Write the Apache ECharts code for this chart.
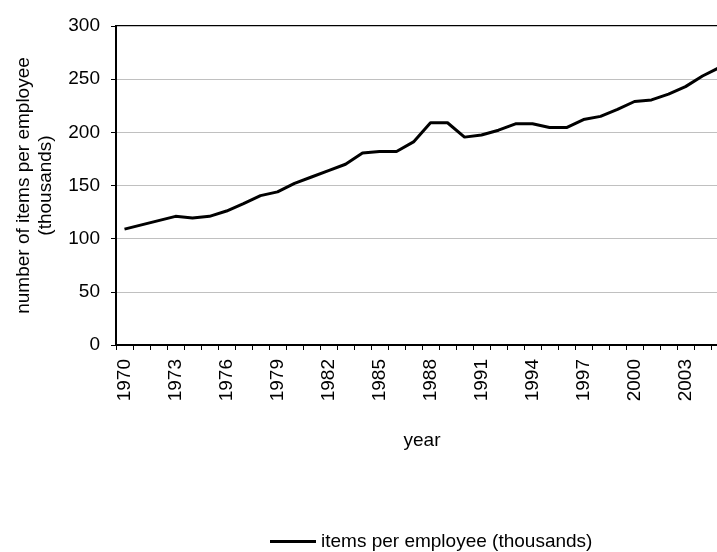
<!DOCTYPE html>
<html>
<head>
<meta charset="utf-8">
<script src="https://cdn.jsdelivr.net/npm/echarts@6/dist/echarts.min.js"></script>
<style>
html,body{margin:0;padding:0;background:#fff;overflow:hidden;}
#chart{width:717px;height:552px;}
</style>
</head>
<body>
<div id="chart"></div>
<script>
const years = ['1970','1971','1972','1973','1974','1975','1976','1977','1978','1979',
  '1980','1981','1982','1983','1984','1985','1986','1987','1988','1989',
  '1990','1991','1992','1993','1994','1995','1996','1997','1998','1999',
  '2000','2001','2002','2003','2004','2005'];
const itemsPerEmployee = [109,113,117,121,119.5,121,126,133,140.5,144,
  152,158,164,170,180.5,182,182,191,209,209,
  195.5,197.5,202,208,208,204.5,204.5,212,215,221.5,
  229,230.5,236,243,253,261];
const seriesName = 'items per employee (thousands)';
const yTicks = [0,50,100,150,200,250,300];

const font = 'Liberation Sans, Arial, sans-serif';
const fs = 19;
const chart = echarts.init(document.getElementById('chart'), null, {renderer:'canvas'});
chart.setOption({
  animation:false,
  backgroundColor:'#fff',
  grid:{left:116, top:26, height:319, width:612, outerBoundsMode:'none', containLabel:false,
        show:true, borderColor:'#000', borderWidth:2, backgroundColor:'transparent'},
  xAxis:{
    type:'category', data:years, boundaryGap:true,
    name:'year', nameLocation:'middle', nameGap:86,
    nameTextStyle:{fontFamily:font, fontSize:fs, color:'#000', verticalAlign:'top'},
    axisLine:{lineStyle:{color:'#000', width:2}},
    axisTick:{show:true, interval:0, length:5, lineStyle:{color:'#000'}},
    axisLabel:{interval:2, rotate:90, margin:14, fontFamily:font, fontSize:fs, color:'#000'},
    splitLine:{show:false}
  },
  yAxis:{
    type:'value', min:yTicks[0], max:yTicks[yTicks.length-1], interval:50,
    name:'number of items per employee\n(thousands)', nameLocation:'middle', nameRotate:90, nameGap:59,
    nameTextStyle:{fontFamily:font, fontSize:fs, color:'#000', lineHeight:22, align:'center'},
    axisLine:{show:true, lineStyle:{color:'#000', width:2}},
    axisTick:{show:true, length:5, lineStyle:{color:'#000'}},
    axisLabel:{margin:16, fontFamily:font, fontSize:fs, color:'#000'},
    splitLine:{show:true, lineStyle:{color:'#c0c0c0', width:1}}
  },
  legend:{
    data:[seriesName], left:265, top:527,
    icon:'rect', itemWidth:46, itemHeight:3, itemGap:4,
    textStyle:{fontFamily:font, fontSize:fs, color:'#000'}
  },
  series:[{
    name:seriesName, type:'line', data:itemsPerEmployee,
    symbol:'none', smooth:false,
    lineStyle:{color:'#000', width:3},
    itemStyle:{color:'#000'}
  }]
});
</script>
</body>
</html>
